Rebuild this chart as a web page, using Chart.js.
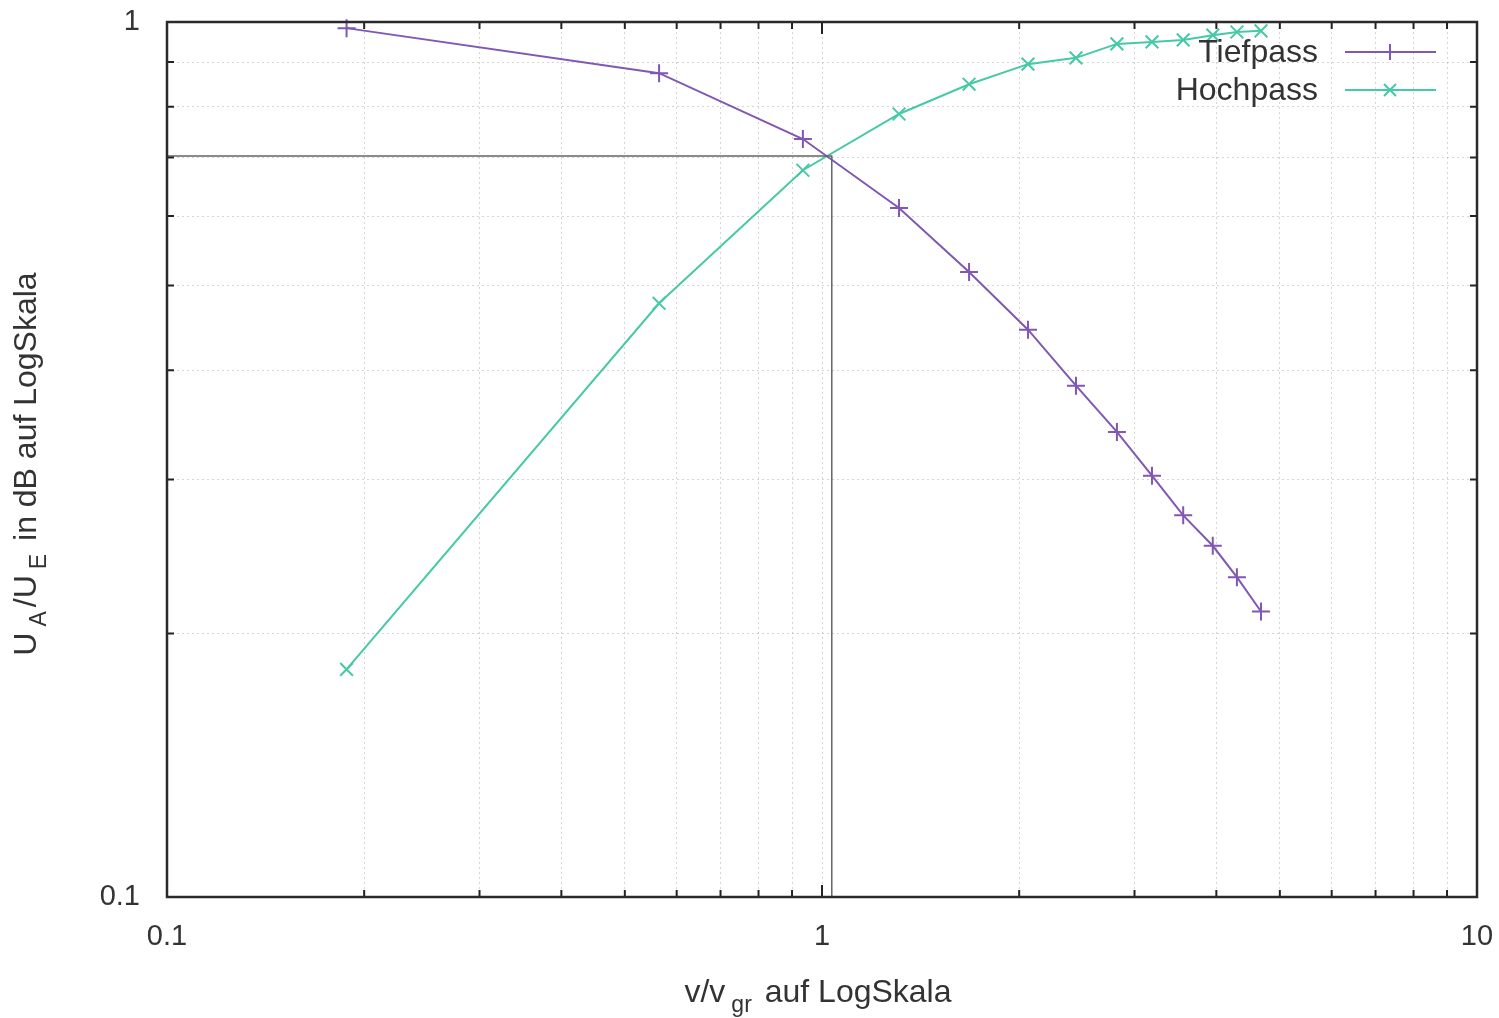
<!DOCTYPE html>
<html>
<head>
<meta charset="utf-8">
<script src="https://cdn.jsdelivr.net/npm/chart.js@4/dist/chart.umd.min.js"></script>
<style>
  html, body { margin: 0; padding: 0; background: #ffffff; }
  #wrap { width: 1499px; height: 1018px; }
</style>
</head>
<body>
<div id="wrap"><canvas id="c" width="1499" height="1018"></canvas></div>
<script>
// ---- data ----
const seriesNames = ['Tiefpass', 'Hochpass'];
const freqRatio = [0.188, 0.564, 0.935, 1.311, 1.677, 2.063, 2.442, 2.82, 3.19, 3.56, 3.95, 4.30, 4.68];
const tiefpass  = [0.984, 0.874, 0.735, 0.613, 0.518, 0.445, 0.384, 0.340, 0.303, 0.273, 0.252, 0.232, 0.212];
const hochpass  = [0.182, 0.477, 0.677, 0.785, 0.849, 0.895, 0.910, 0.944, 0.949, 0.954, 0.966, 0.974, 0.977];
const cutoffX = [0.1, 1.035, 1.035];
const cutoffY = [0.703, 0.703, 0.1];
const xTickValues = [0.1, 0.2, 0.3, 0.4, 0.5, 0.6, 0.7, 0.8, 0.9, 1, 2, 3, 4, 5, 6, 7, 8, 9, 10];
const yTickValues = [0.1, 0.2, 0.3, 0.4, 0.5, 0.6, 0.7, 0.8, 0.9, 1];
const xTickLabels = ['0.1', '1', '10'];
const yTickLabels = ['0.1', '1'];
const xTitle = [{t: 'v/v'}, {t: 'gr', sub: true}, {t: ' auf LogSkala'}];
const yTitle = [{t: 'U'}, {t: 'A', sub: true}, {t: '/U'}, {t: 'E', sub: true}, {t: ' in dB auf LogSkala'}];

const PURPLE = '#8157b3';
const TEAL = '#45c9a6';
const FONT = '"Liberation Sans", Arial, sans-serif';

const pts = (xs, ys) => xs.map((x, i) => ({x: x, y: ys[i]}));
const isDecade = v => Math.abs(Math.log10(v) - Math.round(Math.log10(v))) < 1e-6;
const fmt = v => String(Math.round(v * 1000) / 1000);

function drawRich(ctx, parts, size) {
  const subSize = Math.round(size * 0.72);
  let w = 0;
  parts.forEach(p => {
    ctx.font = (p.sub ? subSize : size) + 'px ' + FONT;
    w += ctx.measureText(p.t).width + (p.sub ? 10 : 0);
  });
  let x = -w / 2;
  parts.forEach(p => {
    ctx.font = (p.sub ? subSize : size) + 'px ' + FONT;
    if (p.sub) x += 6;
    ctx.fillText(p.t, x, p.sub ? size * 0.3 : 0);
    x += ctx.measureText(p.t).width + (p.sub ? 4 : 0);
  });
}

const decor = {
  id: 'decor',
  afterDraw(chart) {
    const ctx = chart.ctx;
    const a = chart.chartArea;
    const xs = chart.scales.x, ys = chart.scales.y;
    ctx.save();
    // inward tick marks
    ctx.strokeStyle = '#222';
    ctx.lineWidth = 2;
    xs.ticks.forEach(t => {
      const px = xs.getPixelForValue(t.value);
      const L = isDecade(t.value) ? 12 : 7;
      ctx.beginPath();
      ctx.moveTo(px, a.bottom); ctx.lineTo(px, a.bottom - L);
      ctx.moveTo(px, a.top); ctx.lineTo(px, a.top + L);
      ctx.stroke();
    });
    ys.ticks.forEach(t => {
      const py = ys.getPixelForValue(t.value);
      const L = isDecade(t.value) ? 12 : 7;
      ctx.beginPath();
      ctx.moveTo(a.left, py); ctx.lineTo(a.left + L, py);
      ctx.moveTo(a.right, py); ctx.lineTo(a.right - L, py);
      ctx.stroke();
    });
    // frame
    ctx.lineWidth = 2.5;
    ctx.strokeStyle = '#2a2a2a';
    ctx.strokeRect(a.left, a.top, a.right - a.left, a.bottom - a.top);

    // legend (inside, top right)
    const ds = chart.data.datasets.filter(d => seriesNames.includes(d.label));
    ds.forEach((d, i) => {
      const y = 52 + i * 38;
      ctx.fillStyle = '#333';
      ctx.font = '32px ' + FONT;
      ctx.textAlign = 'right';
      ctx.textBaseline = 'middle';
      ctx.fillText(d.label, 1318, y + 1);
      ctx.strokeStyle = d.borderColor;
      ctx.lineWidth = 2;
      ctx.beginPath();
      ctx.moveTo(1345, y); ctx.lineTo(1436, y);
      const r = 8;
      if (d.pointStyle === 'cross') {
        ctx.moveTo(1390 - r, y); ctx.lineTo(1390 + r, y);
        ctx.moveTo(1390, y - r); ctx.lineTo(1390, y + r);
      } else {
        const q = r * 0.75;
        ctx.moveTo(1390 - q, y - q); ctx.lineTo(1390 + q, y + q);
        ctx.moveTo(1390 - q, y + q); ctx.lineTo(1390 + q, y - q);
      }
      ctx.stroke();
    });

    // axis titles
    ctx.fillStyle = '#333';
    ctx.textAlign = 'left';
    ctx.textBaseline = 'alphabetic';
    ctx.save();
    ctx.translate(818, 1002);
    drawRich(ctx, xTitle, 32);
    ctx.restore();
    ctx.save();
    ctx.translate(36, 464);
    ctx.rotate(-Math.PI / 2);
    drawRich(ctx, yTitle, 32);
    ctx.restore();
    ctx.restore();
  }
};

const gridOpts = { color: 'rgba(150,150,150,0.4)', lineWidth: 1, drawTicks: false };

new Chart(document.getElementById('c'), {
  type: 'line',
  data: {
    datasets: [
      {
        label: 'cutoff',
        data: pts(cutoffX, cutoffY),
        borderColor: '#666',
        borderWidth: 1.5,
        pointRadius: 0,
        tension: 0
      },
      {
        label: seriesNames[0],
        data: pts(freqRatio, tiefpass),
        borderColor: PURPLE,
        backgroundColor: PURPLE,
        borderWidth: 2,
        pointStyle: 'cross',
        pointRadius: 9,
        pointBorderWidth: 2,
        tension: 0
      },
      {
        label: seriesNames[1],
        data: pts(freqRatio, hochpass),
        borderColor: TEAL,
        backgroundColor: TEAL,
        borderWidth: 2,
        pointStyle: 'crossRot',
        pointRadius: 9,
        pointBorderWidth: 2,
        tension: 0
      }
    ]
  },
  options: {
    responsive: false,
    animation: false,
    clip: false,
    layout: { padding: { top: 22, right: 22, left: 0, bottom: 0 } },
    plugins: { legend: { display: false }, tooltip: { enabled: false }, title: { display: false } },
    scales: {
      x: {
        type: 'logarithmic',
        min: 0.1, max: 10,
        grid: gridOpts,
        border: { display: false, dash: [2, 3] },
        afterFit: s => { s.height = 121; s.paddingLeft = 0; s.paddingRight = 0; },
        afterBuildTicks: s => { s.ticks = xTickValues.map(v => ({value: v, major: isDecade(v)})); },
        ticks: {
          autoSkip: false, maxRotation: 0, padding: 23,
          color: '#333', font: { family: FONT, size: 29 },
          callback: v => (xTickLabels.includes(fmt(v)) ? fmt(v) : '')
        }
      },
      y: {
        type: 'logarithmic',
        min: 0.1, max: 1,
        grid: gridOpts,
        border: { display: false, dash: [2, 3] },
        afterFit: s => { s.width = 167; s.paddingTop = 0; s.paddingBottom = 0; },
        afterBuildTicks: s => { s.ticks = yTickValues.map(v => ({value: v, major: isDecade(v)})); },
        ticks: {
          autoSkip: false, padding: 27,
          color: '#333', font: { family: FONT, size: 29 },
          callback: v => (yTickLabels.includes(fmt(v)) ? fmt(v) : '')
        }
      }
    }
  },
  plugins: [decor]
});
</script>
</body>
</html>
